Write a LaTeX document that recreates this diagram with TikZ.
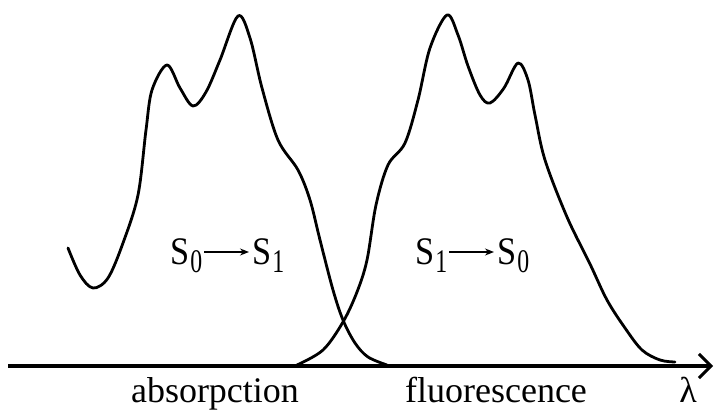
\documentclass[tikz,border=0pt]{standalone}
\usepackage{fontspec}
\setmainfont{Liberation Serif}
\usetikzlibrary{arrows.meta,calc}
\newcommand{\Sstate}[1]{\fontsize{39}{39}\selectfont\scalebox{0.88}[1]{S}\kern1pt\raisebox{-8pt}{\fontsize{33}{33}\selectfont\scalebox{0.72}[1]{#1}}}
\begin{document}
\begin{tikzpicture}[x=1pt,y=-1pt,
  curve/.style={line width=2.8pt, line join=round, line cap=round},
  axisline/.style={line width=3.6pt, -{Straight Barb[length=12pt,width=24pt,line width=3pt]}},
  state/.style={inner sep=0pt, anchor=base west},
  trans/.style={line width=1.3pt, -{Stealth[length=9pt,width=7pt]}, shorten <=1pt, shorten >=3pt},
  lab/.style={inner sep=0pt, anchor=base, font=\fontsize{36}{36}\selectfont}]
\useasboundingbox (0,0) rectangle (715,412);
% absorption
\draw[curve] plot[smooth, tension=0.55] coordinates {
 (68,248) (80,275) (93,288) (108,278) (123,243) (138,195) (146,130) (152,90) (167,65)
 (180,88) (193,106) (206,92) (220,60) (238,16) (250,38) (262,88) (278,140) (298,170)
 (310,200) (320,240) (333,290) (343,320) (355,343) (368,357) (387,365)};
% fluorescence
\draw[curve] plot[smooth, tension=0.55] coordinates {
 (297,365) (323,350) (343,322) (357,292) (367,260) (376,205) (388,165) (405,143)
 (418,100) (430,48) (447,15) (458,35) (468,66) (480,95) (490,103) (504,88) (518,63)
 (528,80) (535,115) (545,160) (567,217) (590,264) (607,300) (625,328) (642,350) (660,360) (675,362)};
% axis
\coordinate (ax0) at (8,366);
\coordinate (ax1) at (713,366);
\draw[axisline] (ax0) -- (ax1);
% transitions
\node[state] (s0a) at (170,264) {\Sstate{0}};
\node[state] (s1a) at (252,264) {\Sstate{1}};
\draw[trans] ($(s0a.base east)+(1pt,12pt)$) -- ($(s1a.base west)+(0pt,12pt)$);
\node[state] (s1f) at (415,264) {\Sstate{1}};
\node[state] (s0f) at (497,264) {\Sstate{0}};
\draw[trans] ($(s1f.base east)+(1pt,12pt)$) -- ($(s0f.base west)+(0pt,12pt)$);
% labels
\node[lab] (labs) at (215,402) {absorpction};
\node[lab] (lfl) at (496,402) {fluorescence};
\node[lab] (llam) at (688,402) {λ};
\end{tikzpicture}
\end{document}
